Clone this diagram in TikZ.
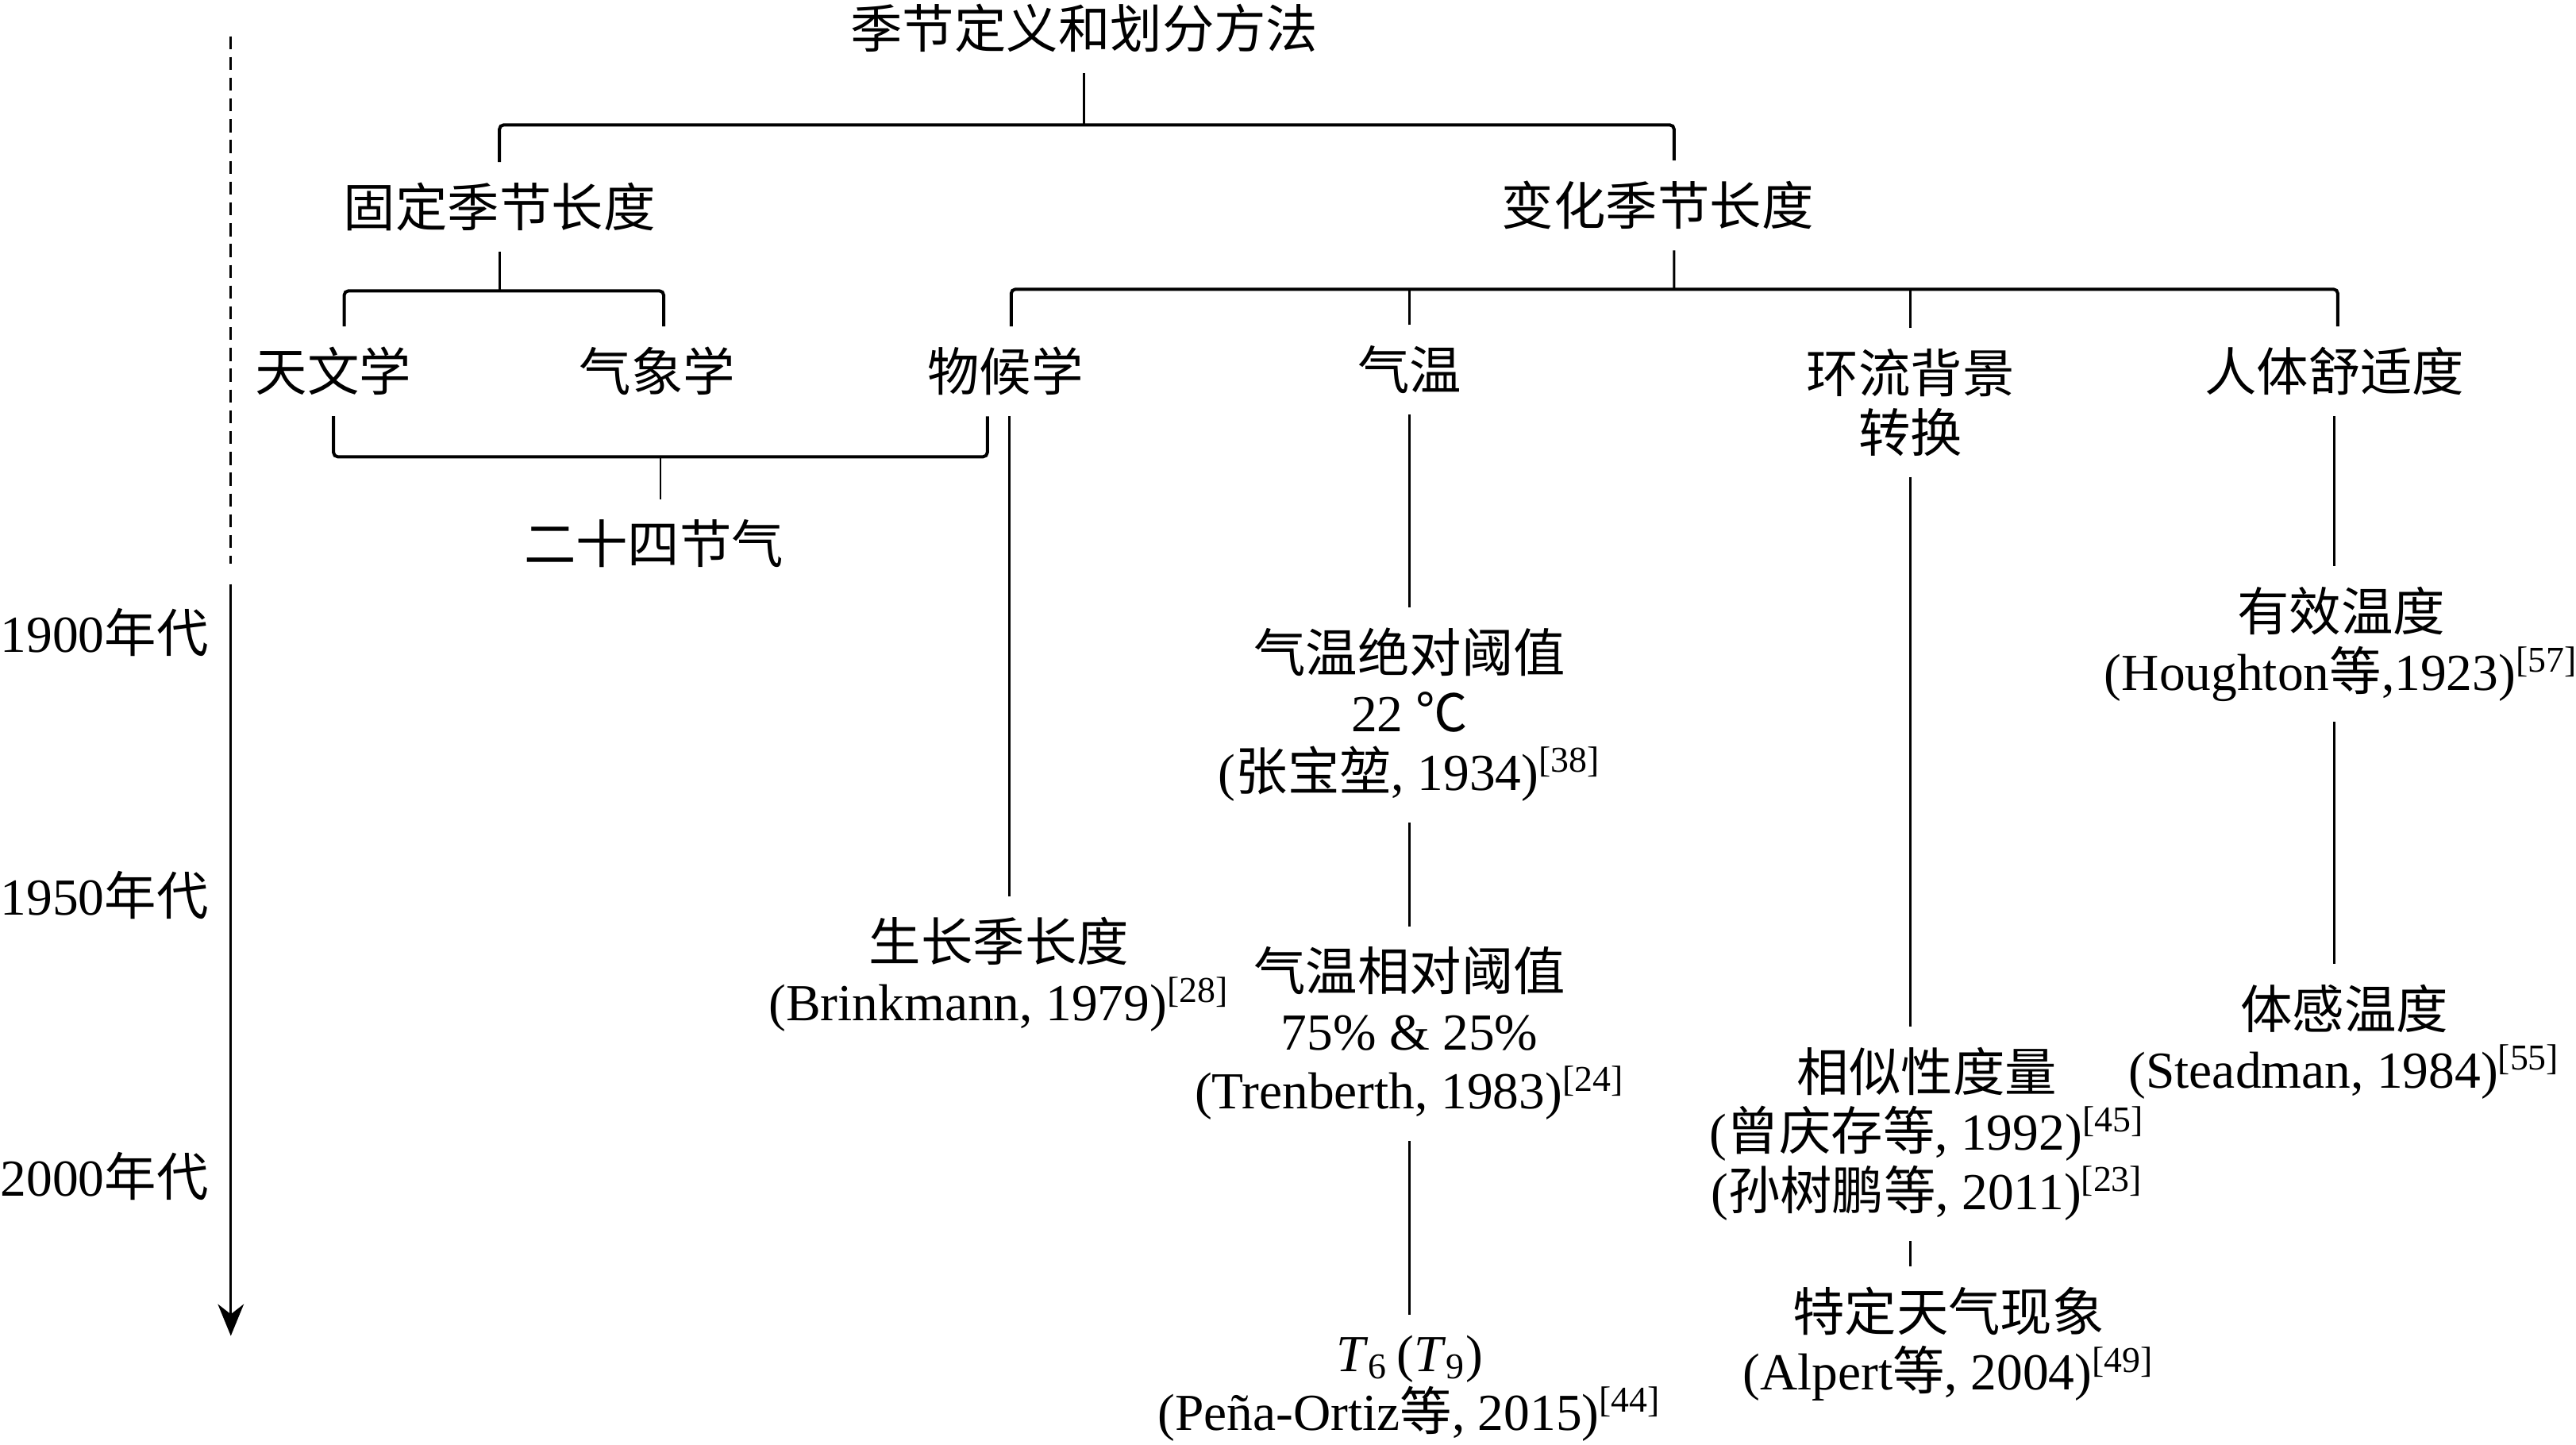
\documentclass[tikz,border=0pt]{standalone}
\usepackage{fontspec}
\setmainfont{Liberation Serif}
\newfontfamily\cjk{Noto Sans CJK SC}
\usetikzlibrary{arrows.meta}
\newcommand{\zh}[1]{{\cjk #1}}
\tikzset{lbl/.style = {font=\fontsize{18}{20.5}\selectfont, align=center, inner xsep=2pt, inner ysep=7pt}}
\tikzset{bar/.style = {line width=1.1pt, rounded corners=1.5pt}}
\tikzset{stem/.style = {line width=0.8pt}}

\begin{document}
\begin{tikzpicture}[x=0.02cm, y=-0.02cm]
        \useasboundingbox (0,0) rectangle (1568,879.4);
        % time axis
        \coordinate (d0) at (140.5,22);
        \coordinate (d1) at (140.5,343);
        \coordinate (a0) at (140.5,355.5);
        \coordinate (a1) at (140.5,813);
        \draw [stem, dash pattern=on 4.5pt off 2.7pt] (d0) -- (d1);
        \draw [line width=0.7pt, -{Stealth[length=11pt,width=9pt,inset=3.5pt]}] (a0) -- (a1);
        \node [lbl, anchor=west, inner sep=0] (y1900) at (0,385) {1900\zh{年代}};
        \node [lbl, anchor=west, inner sep=0] (y1950) at (0,545) {1950\zh{年代}};
        \node [lbl, anchor=west, inner sep=0] (y2000) at (0,716) {2000\zh{年代}};
        % tree
        \node [lbl] (title) at (660,17) {\zh{季节定义和划分方法}};
        \node [lbl] (fix) at (304,126) {\zh{固定季节长度}};
        \node [lbl] (var) at (1009,125) {\zh{变化季节长度}};
        \node [lbl] (astro) at (203,226) {\zh{天文学}};
        \node [lbl] (meteo) at (400,226) {\zh{气象学}};
        \node [lbl] (pheno) at (612,226) {\zh{物候学}};
        \node [lbl] (temp) at (858,225) {\zh{气温}};
        \node [lbl] (circ) at (1163,245) {\zh{环流背景}\\\zh{转换}};
        \node [lbl] (comf) at (1421,226) {\zh{人体舒适度}};
        \node [lbl] (terms) at (398,331) {\zh{二十四节气}};
        \node [lbl] (grow) at (608,593) {\zh{生长季长度}\\(Brinkmann, 1979)\textsuperscript{[28]}};
        \node [lbl] (absT) at (858,435) {\zh{气温绝对阈值}\\22 \zh{℃}\\(\zh{张宝堃}, 1934)\textsuperscript{[38]}};
        \node [lbl] (relT) at (858,629) {\zh{气温相对阈值}\\75\% \& 25\%\\(Trenberth, 1983)\textsuperscript{[24]}};
        \node [lbl] (tsix) at (858,845) {\textit{T}\textsubscript{6}\,(\textit{T}\textsubscript{9})\\(Peña-Ortiz\zh{等}, 2015)\textsuperscript{[44]}};
        \node [lbl] (simil) at (1173,690) {\zh{相似性度量}\\(\zh{曾庆存等}, 1992)\textsuperscript{[45]}\\(\zh{孙树鹏等}, 2011)\textsuperscript{[23]}};
        \node [lbl] (event) at (1186,818) {\zh{特定天气现象}\\(Alpert\zh{等}, 2004)\textsuperscript{[49]}};
        \node [lbl] (effT) at (1425,392) {\zh{有效温度}\\(Houghton\zh{等},1923)\textsuperscript{[57]}};
        \node [lbl] (feelT) at (1427,634) {\zh{体感温度}\\(Steadman, 1984)\textsuperscript{[55]}};
        % brackets
        \coordinate (b1) at (660,76);
        \coordinate (b2) at (306,177);
        \coordinate (b3) at (1019,176);
        \coordinate (b4) at (402,278);
        \draw [stem] (title) -- (b1);
        \draw [bar] (fix.north) |- (b1) -| ([xshift=0.2cm]var.north);
        \draw [stem] (fix) -- (fix |- b2);
        \draw [bar] ([xshift=0.13cm]astro.north) |- (b2) -| ([xshift=0.08cm]meteo.north);
        \draw [stem] ([xshift=0.2cm]var.south) -- (b3);
        \draw [bar] ([xshift=0.07cm]pheno.north) |- (b3) -| ([xshift=0.04cm]comf.north);
        \draw [stem] (temp) -- (temp |- b3);
        \draw [stem] (circ) -- (circ |- b3);
        \draw [bar] (astro.south) |- (b4) -| ([xshift=-0.22cm]pheno.south);
        \draw [stem] (b4) -- (b4 |- terms.north);
        % columns
        \draw [stem] ([xshift=0.05cm]pheno.south) -- ([xshift=0.05cm]pheno.south |- grow.north);
        \draw [stem] (temp) -- (absT);
        \draw [stem] (absT) -- (relT);
        \draw [stem] (relT) -- (tsix);
        \draw [stem] (circ) -- (circ |- simil.north);
        \draw [stem] (circ |- simil.south) -- (circ |- event.north);
        \draw [stem] (comf) -- (comf |- effT.north);
        \draw [stem] (comf |- effT.south) -- (comf |- feelT.north);
\end{tikzpicture}
\end{document}
